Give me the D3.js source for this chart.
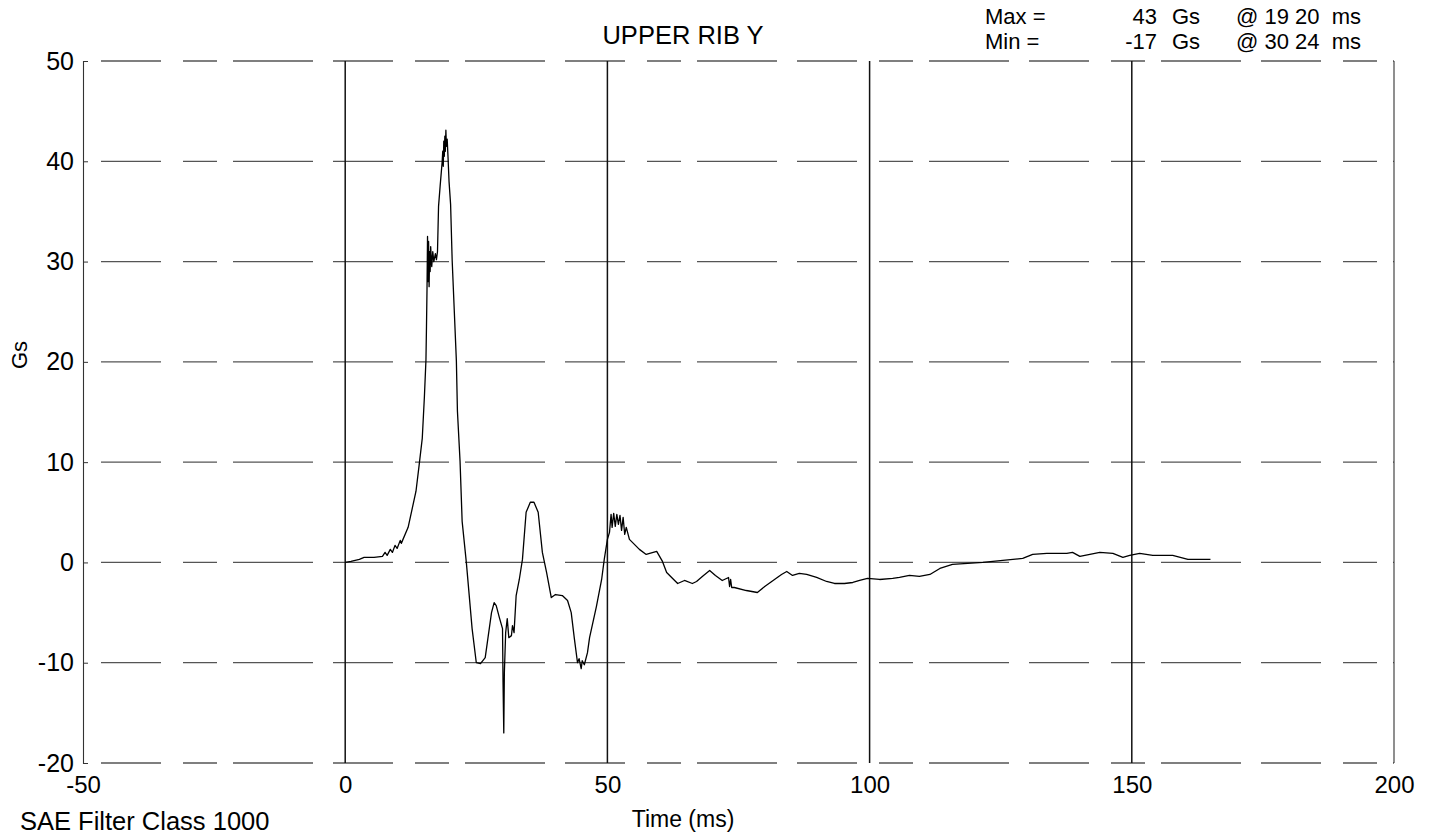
<!DOCTYPE html>
<html>
<head>
<meta charset="utf-8">
<script src="https://cdn.jsdelivr.net/npm/d3@7/dist/d3.min.js"></script>
<style>
  html, body { margin: 0; padding: 0; background: #fff; }
  svg { display: block; font-family: "Liberation Sans", Arial, sans-serif; }
  text { white-space: pre; }
</style>
</head>
<body>
<svg id="chart" width="1435" height="838"></svg>
<script>
// ---- data ----
const timeMs = [0,1.1,2.7,3.6,5.5,7.1,7.6,8.0,8.6,9.0,9.5,9.9,10.5,10.7,12.0,13.5,14.1,14.7,15.1,15.4,15.5,15.6,15.7,15.8,15.9,16.0,16.1,16.2,16.3,16.5,16.7,16.9,17.2,17.4,17.6,17.8,18.1,18.5,18.6,18.7,18.8,18.9,19.0,19.1,19.2,19.3,19.45,19.6,19.8,20.1,20.4,20.8,21.2,21.4,21.9,22.3,23.1,24.2,25.0,25.8,26.7,27.1,27.9,28.4,28.8,29.4,30.0,30.1,30.24,30.35,30.6,30.9,31.2,31.7,31.9,32.2,32.6,33.2,33.8,34.5,35.3,36.0,36.8,37.6,38.4,39.3,40.1,41.4,42.4,43.1,43.7,44.3,44.6,45.0,45.2,45.6,46.2,46.6,47.9,48.9,49.4,50.0,50.4,50.7,50.9,51.2,51.5,51.8,52.1,52.4,52.7,53.0,53.3,53.6,54.2,56.1,57.4,59.4,60.5,61.3,63.4,64.7,66.2,67.0,68.1,69.5,70.6,71.9,72.7,73.1,73.3,73.5,73.7,74.2,76.5,78.6,80.0,83.2,84.2,85.3,86.6,88.0,89.9,91.8,93.3,95.2,96.8,98.1,99.6,101.9,104.4,105.7,107.6,109.5,111.5,113.4,115.8,121.6,125.4,129.2,131.1,133.8,137.6,138.7,140.1,142.0,143.9,146.4,148.3,149.6,151.5,154.0,157.8,160.7,165.0];
const accelGs = [0,0.1,0.3,0.5,0.5,0.6,1.0,0.7,1.3,1.0,1.7,1.4,2.2,1.9,3.5,7.1,9.7,12.4,16.5,20.2,23.5,27.2,32.5,28,32,27.5,31,29,31.5,29.5,31,30,30.8,30.2,31,35.5,37.5,40,41,39.5,42,40.5,42.5,41,43.1,41.5,42.2,40.5,38,35.7,30.1,25.1,20.1,15.1,10.1,4.1,0,-6.6,-10,-10.1,-9.5,-8,-5,-4,-4.3,-5.5,-6.6,-12,-17,-11,-7,-5.6,-7.5,-7.3,-6.3,-7,-3.3,-1.7,0.3,5,6,6,5,1,-1,-3.5,-3.2,-3.3,-3.8,-5,-7.6,-10,-9.6,-10.6,-9.8,-10.2,-9,-7.5,-4.4,-1.7,0.3,2.3,3,4.8,3.5,4.9,3.6,4.8,3.8,4.7,3.2,4.5,2.8,3.5,2.3,1.3,0.8,1.1,0.1,-1,-2.1,-1.8,-2.1,-1.9,-1.4,-0.8,-1.3,-1.8,-1.6,-1.5,-2.4,-1.7,-2.5,-2.5,-2.8,-3.0,-2.4,-1.2,-0.9,-1.3,-1.1,-1.2,-1.5,-1.9,-2.1,-2.1,-2.0,-1.8,-1.6,-1.7,-1.6,-1.5,-1.3,-1.4,-1.2,-0.6,-0.2,0.0,0.2,0.4,0.8,0.9,0.9,1.0,0.6,0.8,1.0,0.9,0.5,0.7,0.9,0.7,0.7,0.3,0.3];
const xTicks = [-50, 0, 50, 100, 150, 200];
const yTicks = [-20, -10, 0, 10, 20, 30, 40, 50];
const vGridTicks = [0, 50, 100, 150];
const titleText = "UPPER RIB Y";
const statLabels = ["Max =", "Min ="];
const statValues = ["43", "-17"];
const statUnits = ["Gs", "Gs"];
const statTimes = ["@ 19 20  ms", "@ 30 24  ms"];

// ---- layout ----
const svg = d3.select("#chart");
const plotL = 83, plotR = 1394, plotT = 61, plotB = 763;
const x = d3.scaleLinear().domain([-50, 200]).range([plotL, plotR]);
const y = d3.scaleLinear().domain([-20, 50]).range([plotB, plotT]);
const fmt = d => String(d);
const FONT = "'Liberation Sans', Arial, sans-serif";

// horizontal dashed grid lines
svg.append("g").selectAll("line").data(yTicks).join("line")
  .attr("x1", x(-50) + 18).attr("x2", x(200))
  .attr("y1", d => y(d)).attr("y2", d => y(d))
  .attr("stroke", "#555").attr("stroke-width", 1.3)
  .attr("stroke-dasharray", "60,22,34,16,80,20");

// vertical grid lines
svg.append("g").selectAll("line").data(vGridTicks).join("line")
  .attr("x1", d => x(d)).attr("x2", d => x(d))
  .attr("y1", y(50)).attr("y2", y(-20))
  .attr("stroke", "#111").attr("stroke-width", 1.5);

// right border
svg.append("line")
  .attr("x1", x(200)).attr("x2", x(200)).attr("y1", y(50)).attr("y2", y(-20))
  .attr("stroke", "#333").attr("stroke-width", 1.1);

// y axis
const yAxis = svg.append("g").attr("transform", `translate(${plotL},0)`)
  .call(d3.axisLeft(y).tickValues(yTicks).tickSize(-5).tickPadding(9).tickFormat(fmt));
yAxis.select(".domain").attr("stroke", "#333").attr("stroke-width", 1.1);
yAxis.selectAll(".tick line").attr("stroke", "#333");
yAxis.selectAll("text").attr("font-size", 25).attr("fill", "#000").attr("font-family", FONT);

// x axis labels
const xAxis = svg.append("g").attr("transform", `translate(0,${plotB + 7})`)
  .call(d3.axisBottom(x).tickValues(xTicks).tickSize(0).tickPadding(6).tickFormat(fmt));
xAxis.select(".domain").remove();
xAxis.selectAll("text").attr("font-size", 24).attr("fill", "#000").attr("font-family", FONT);

// data line
const line = d3.line().x((d, i) => x(timeMs[i])).y(d => y(d)).curve(d3.curveLinear);
svg.append("path").datum(accelGs)
  .attr("d", line).attr("fill", "none")
  .attr("stroke", "#000").attr("stroke-width", 1.3).attr("stroke-linejoin", "round");

// texts
svg.append("text").attr("x", 683).attr("y", 44).attr("text-anchor", "middle")
  .attr("font-size", 25.5).text(titleText);

const statRows = svg.append("g").selectAll("g").data(statLabels).join("g")
  .attr("transform", (d, i) => `translate(0,${23.5 + i * 25.5})`);
statRows.append("text").attr("x", 985).attr("font-size", 22).text(d => d);
statRows.append("text").attr("x", 1157).attr("text-anchor", "end").attr("font-size", 22).text((d, i) => statValues[i]);
statRows.append("text").attr("x", 1172).attr("font-size", 22).text((d, i) => statUnits[i]);
statRows.append("text").attr("x", 1236).attr("font-size", 22).text((d, i) => statTimes[i]);

svg.append("text").attr("transform", "translate(27,355) rotate(-90)")
  .attr("text-anchor", "middle").attr("font-size", 22).text("Gs");

svg.append("text").attr("x", 683).attr("y", 827).attr("text-anchor", "middle")
  .attr("font-size", 23).text("Time (ms)");

svg.append("text").attr("x", 20).attr("y", 830)
  .attr("font-size", 25.5).text("SAE Filter Class 1000");
</script>
</body>
</html>
